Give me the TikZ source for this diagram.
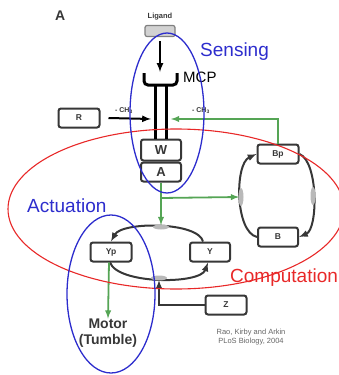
\documentclass[tikz,border=0pt]{standalone}
\usepackage{fontspec}
\setmainfont{Liberation Sans}
\usetikzlibrary{positioning}
\definecolor{boxgray}{RGB}{55,55,55}
\definecolor{sensblue}{RGB}{45,45,205}
\definecolor{comred}{RGB}{232,40,40}
\definecolor{siggreen}{RGB}{85,165,85}

\begin{document}
\begin{tikzpicture}[x=1pt,y=-1pt,
	box/.style={draw=boxgray,line width=2pt,rounded corners=2.5pt,fill=white,inner sep=0pt,text=boxgray,
		font=\bfseries\fontsize{8.5}{9}\selectfont,minimum width=41pt,minimum height=19pt},
	bigbox/.style={box,font=\bfseries\fontsize{13}{14}\selectfont,minimum width=40pt},
	loop/.style={draw=boxgray,line width=2pt},
	grn/.style={draw=siggreen,line width=1.8pt,-latex},
	graymark/.style={fill=gray!55},
	big/.style={font=\fontsize{19}{22}\selectfont,inner sep=0pt}]
	\useasboundingbox (0,0) rectangle (338,375);
	\node[anchor=base west,inner sep=0pt,font=\bfseries\fontsize{14}{16}\selectfont,text=boxgray] (lblA) at (55,20) {A};
	% receptor
	\node[draw=gray,fill=gray!35,line width=1.2pt,rounded corners=2pt,minimum width=30pt,minimum height=11pt] (ligand) at (160,31) {};
	\node[font=\bfseries\fontsize{7.5}{8}\selectfont,text=boxgray,above=1pt of ligand] (ligtxt) {Ligand};
	\coordinate (cuptop) at (160,72);
	\draw[line width=2pt,-latex] ([yshift=-4pt]ligand.south) -- (cuptop);
	\draw[line width=3pt,rounded corners=4pt] (144,73) -- (144,85) -- (177,85) -- (177,73);
	\node[bigbox,minimum height=21pt] (W) at (161,150) {W};
	\node[bigbox,below=0pt of W] (A) {A};
	\draw[line width=3pt] ([xshift=-6pt]W.north) -- ++(0,-55);
	\draw[line width=3pt] ([xshift=5pt]W.north) -- ++(0,-55);
	\node[anchor=base west,inner sep=0pt,font=\fontsize{15}{17}\selectfont] (mcp) at (183,82) {MCP};
	\coordinate (mcpL) at (151,119);
	\coordinate (mcpR) at (171,119);
	% methylation
	\node[box] (R) at (79,118) {R};
	\draw[line width=2pt,-latex] ([xshift=8pt]R.east) -- (mcpL);
	\node[font=\bfseries\fontsize{7}{8}\selectfont,text=boxgray,inner sep=0pt] (chR) at (124,111) {- CH\textsubscript{3}};
	\node[box] (Bp) at (278,154) {Bp};
	\node[box,minimum width=40pt] (B) at (278,237) {B};
	\draw[grn] (Bp.north) |- (mcpR);
	\node[font=\bfseries\fontsize{7}{8}\selectfont,text=boxgray,inner sep=0pt] (chL) at (201,111) {- CH\textsubscript{3}};
	\draw[loop,-latex] (B.west) .. controls +(-22,-5) and +(-22,10) .. (Bp.west);
	\draw[loop,-latex] (Bp.east) .. controls +(19,8) and +(19,-8) .. (B.east);
	\coordinate (bmarkL) at (241,197);
	\coordinate (bmarkR) at (313,196);
	\fill[graymark] (bmarkL) ellipse [x radius=2.5,y radius=9];
	\fill[graymark] (bmarkR) ellipse [x radius=2.5,y radius=9];
	% CheY cycle
	\node[box] (Yp) at (111,252) {Yp};
	\node[box,minimum width=40pt] (Y) at (210,252) {Y};
	\draw[loop,-latex] ([xshift=-7pt]Y.north) .. controls +(-5,-20) and +(11,-20) .. (Yp.north);
	\draw[loop,-latex] ([xshift=-1pt]Yp.south) .. controls +(8,22) and +(-8,22) .. ([xshift=-2pt]Y.south);
	\coordinate (ymarkT) at (161,227);
	\coordinate (ymarkB) at (159,278);
	\fill[graymark] (ymarkT) ellipse [x radius=8,y radius=2.5];
	\fill[graymark] (ymarkB) ellipse [x radius=8,y radius=2.5];
	\coordinate (split) at (161,198);
	\draw[grn] (A.south) -- ([yshift=2pt]ymarkT);
	\draw[grn] (split) -- ([xshift=-2pt]bmarkL);
	\node[box] (Z) at (226,305) {Z};
	\draw[line width=2pt,draw=boxgray,-latex] (Z.west) -| ([yshift=-2pt]ymarkB);
	% output
	\node[font=\bfseries\fontsize{14}{16}\selectfont,text=boxgray,align=center,inner sep=0pt] (motor) at (108,333) {Motor\\(Tumble)};
	\draw[grn] ([xshift=-2pt]Yp.south) -- (motor.north);
	\node[font=\fontsize{7.5}{9}\selectfont,text=gray!80!black,align=center,inner sep=0pt] (cite) at (251,337) {Rao, Kirby and Arkin\\PLoS Biology, 2004};
	% modules
	\draw[comred,line width=1.1pt] (176,209) ellipse [x radius=168,y radius=80];
	\draw[sensblue,line width=1.3pt] (167,113) ellipse [x radius=37,y radius=80];
	\draw[sensblue,line width=1.3pt] (111,294) ellipse [x radius=44,y radius=79];
	\node[big,text=sensblue,anchor=base west] (sensing) at (200,56) {Sensing};
	\node[big,text=sensblue,anchor=base west] (actuation) at (27,212) {Actuation};
	\node[big,text=comred,anchor=base west] (computation) at (230,282) {Computation};
\end{tikzpicture}
\end{document}
